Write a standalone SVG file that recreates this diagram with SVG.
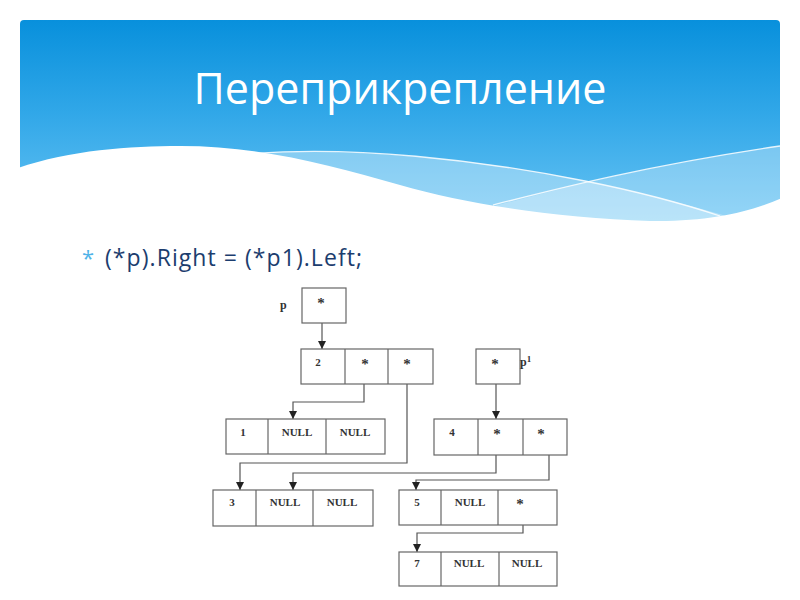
<svg xmlns="http://www.w3.org/2000/svg" width="800" height="600" viewBox="0 0 800 600">
<defs>
  <linearGradient id="sky" x1="0" y1="20" x2="0" y2="220" gradientUnits="userSpaceOnUse">
    <stop offset="0" stop-color="#0890dc"/>
    <stop offset="0.5" stop-color="#34a9e9"/>
    <stop offset="1" stop-color="#66c3f3"/>
  </linearGradient>
  <marker id="arr" viewBox="0 0 8 8" refX="8" refY="4" markerWidth="8" markerHeight="8" markerUnits="userSpaceOnUse" orient="auto">
    <path d="M0,0 L8,4 L0,8 Z" fill="#222"/>
  </marker>
  <style>
    .cell { fill: #ffffff; stroke: #666666; stroke-width: 1.2; }
    .div { stroke: #666666; stroke-width: 1.2; }
    .t { font-family: "Liberation Serif", "DejaVu Serif", serif; font-weight: bold; font-size: 11px; fill: #333333; text-anchor: middle; }
    .s { font-family: "Liberation Serif", "DejaVu Serif", serif; font-weight: bold; font-size: 15px; fill: #333333; text-anchor: middle; }
    .lbl { font-family: "Liberation Serif", "DejaVu Serif", serif; font-weight: bold; font-size: 12px; fill: #333333; }
    .conn { fill: none; stroke: #555555; stroke-width: 1.2; marker-end: url(#arr); }
  </style>
</defs>
<rect width="800" height="600" fill="#ffffff"/>
<g id="banner">
  <rect x="20" y="20" width="760" height="220" rx="4" fill="url(#sky)"/>
  <path d="M230,155 C350,145 480,160 585,181 C650,194 700,208 760,226 L230,226 Z" fill="#ffffff" fill-opacity="0.35"/>
  <path d="M480,210 C560,188 650,165 780,146 L780,230 L480,230 Z" fill="#ffffff" fill-opacity="0.3"/>
  <path d="M250,154 C350,145 480,160 585,181 C640,192 690,206 720,216" fill="none" stroke="#ffffff" stroke-opacity="0.85" stroke-width="1.3"/>
  <path d="M493,205 C560,188 650,165 780,146" fill="none" stroke="#ffffff" stroke-opacity="0.85" stroke-width="1.3"/>
  <path d="M18,168 C70,150 130,146 180,146 C260,146 330,165 400,185 C470,205 560,218 650,221 C710,222 750,212 782,198 L782,245 L18,245 Z" fill="#ffffff"/>
  <text x="400" y="104" font-family="'Open Sans', 'Noto Sans', sans-serif" font-size="43" fill="#ffffff" text-anchor="middle">Переприкрепление</text>
</g>
<g id="bullet">
  <text x="82" y="266" font-family="'Open Sans', 'Noto Sans', sans-serif" font-size="22" fill="#4fb3e8">*</text>
  <text x="105" y="266" font-family="'Open Sans', 'Noto Sans', sans-serif" font-size="23" fill="#1c3d6e" textLength="257" lengthAdjust="spacing">(*p).Right = (*p1).Left;</text>
</g>
<g id="connectors">
  <path class="conn" d="M322,323 L322,349"/>
  <path class="conn" d="M364,384 L364,402 L293,402 L293,419"/>
  <path class="conn" d="M407,384 L407,463 L240,463 L240,490"/>
  <path class="conn" d="M496,384 L496,419"/>
  <path class="conn" d="M496,455 L496,473 L293,473 L293,490"/>
  <path class="conn" d="M549,455 L549,480 L416,480 L416,490"/>
  <path class="conn" d="M523,525 L523,533 L417,533 L417,552"/>
</g>
<g id="node-p">
  <text class="lbl" x="280" y="309">p</text>
  <rect class="cell" x="302" y="288" width="44" height="35"/>
  <text class="s" x="321" y="308">*</text>
</g>
<g id="node-p1">
  <rect class="cell" x="476" y="349" width="44" height="35"/>
  <text class="s" x="495" y="369">*</text>
  <text class="lbl" x="520" y="366">p<tspan font-size="9" dy="-4">1</tspan></text>
</g>
<g id="node-2">
  <rect class="cell" x="301" y="349" width="132" height="35"/>
  <line class="div" x1="345" y1="349" x2="345" y2="384"/>
  <line class="div" x1="388" y1="349" x2="388" y2="384"/>
  <text class="t" x="318" y="366">2</text>
  <text class="s" x="365" y="369">*</text>
  <text class="s" x="407" y="369">*</text>
</g>
<g id="node-1">
  <rect class="cell" x="226" y="419" width="159" height="35"/>
  <line class="div" x1="268" y1="419" x2="268" y2="454"/>
  <line class="div" x1="326" y1="419" x2="326" y2="454"/>
  <text class="t" x="243" y="436">1</text>
  <text class="t" x="297" y="436">NULL</text>
  <text class="t" x="355" y="436">NULL</text>
</g>
<g id="node-4">
  <rect class="cell" x="434" y="419" width="133" height="36"/>
  <line class="div" x1="478" y1="419" x2="478" y2="455"/>
  <line class="div" x1="523" y1="419" x2="523" y2="455"/>
  <text class="t" x="452" y="436">4</text>
  <text class="s" x="497" y="439">*</text>
  <text class="s" x="541" y="439">*</text>
</g>
<g id="node-3">
  <rect class="cell" x="213" y="490" width="160" height="36"/>
  <line class="div" x1="256" y1="490" x2="256" y2="526"/>
  <line class="div" x1="313" y1="490" x2="313" y2="526"/>
  <text class="t" x="232" y="506">3</text>
  <text class="t" x="285" y="506">NULL</text>
  <text class="t" x="342" y="506">NULL</text>
</g>
<g id="node-5">
  <rect class="cell" x="399" y="490" width="158" height="35"/>
  <line class="div" x1="441" y1="490" x2="441" y2="525"/>
  <line class="div" x1="498" y1="490" x2="498" y2="525"/>
  <text class="t" x="417" y="506">5</text>
  <text class="t" x="470" y="506">NULL</text>
  <text class="s" x="520" y="509">*</text>
</g>
<g id="node-7">
  <rect class="cell" x="399" y="552" width="158" height="34"/>
  <line class="div" x1="441" y1="552" x2="441" y2="586"/>
  <line class="div" x1="499" y1="552" x2="499" y2="586"/>
  <text class="t" x="417" y="567">7</text>
  <text class="t" x="469" y="567">NULL</text>
  <text class="t" x="527" y="567">NULL</text>
</g>
</svg>
